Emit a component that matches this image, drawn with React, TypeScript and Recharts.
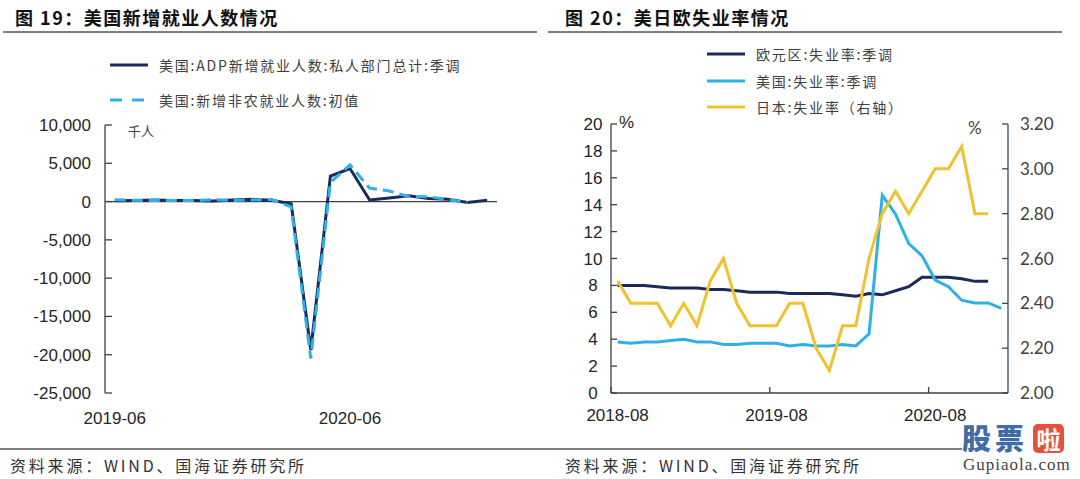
import { Line, LineChart, ReferenceLine, XAxis, YAxis } from "recharts";

// 图19: monthly, thousands of persons
const jobMonths = [
  "2019-06", "2019-07", "2019-08", "2019-09", "2019-10", "2019-11", "2019-12",
  "2020-01", "2020-02", "2020-03", "2020-04", "2020-05", "2020-06", "2020-07",
  "2020-08", "2020-09", "2020-10", "2020-11", "2020-12", "2021-01",
];
const adpPrivate = [
  112, 156, 195, 135, 125, 67, 202, 291, 183, -302, -19409, 3341, 4314, 212,
  481, 753, 404, 304, -123, 174,
];
const nfpInitial = [
  224, 164, 130, 136, 128, 266, 145, 225, 273, -701, -20500, 2509, 4800, 1763,
  1371, 661, 638, 245, -140, null,
];
const jobXTicks = ["2019-06", "2020-06"];
const jobYTicks = [-25000, -20000, -15000, -10000, -5000, 0, 5000, 10000];

// 图20: monthly unemployment rate, %
const rateMonths = [
  "2018-08", "2018-09", "2018-10", "2018-11", "2018-12", "2019-01", "2019-02",
  "2019-03", "2019-04", "2019-05", "2019-06", "2019-07", "2019-08", "2019-09",
  "2019-10", "2019-11", "2019-12", "2020-01", "2020-02", "2020-03", "2020-04",
  "2020-05", "2020-06", "2020-07", "2020-08", "2020-09", "2020-10", "2020-11",
  "2020-12", "2021-01",
];
const euroRate = [
  8.0, 8.0, 8.0, 7.9, 7.8, 7.8, 7.8, 7.7, 7.7, 7.6, 7.5, 7.5, 7.5, 7.4, 7.4,
  7.4, 7.4, 7.3, 7.2, 7.4, 7.3, 7.6, 7.9, 8.6, 8.6, 8.6, 8.5, 8.3, 8.3, null,
];
const usRate = [
  3.8, 3.7, 3.8, 3.8, 3.9, 4.0, 3.8, 3.8, 3.6, 3.6, 3.7, 3.7, 3.7, 3.5, 3.6,
  3.5, 3.5, 3.6, 3.5, 4.4, 14.7, 13.3, 11.1, 10.2, 8.4, 7.9, 6.9, 6.7, 6.7, 6.3,
];
const japanRate = [
  2.5, 2.4, 2.4, 2.4, 2.3, 2.4, 2.3, 2.5, 2.6, 2.4, 2.3, 2.3, 2.3, 2.4, 2.4,
  2.2, 2.1, 2.3, 2.3, 2.6, 2.8, 2.9, 2.8, 2.9, 3.0, 3.0, 3.1, 2.8, 2.8, null,
];
const rateXTicks = ["2018-08", "2019-08", "2020-08"];
const rateLeftTicks = [0, 2, 4, 6, 8, 10, 12, 14, 16, 18, 20];
const rateRightTicks = [2.0, 2.2, 2.4, 2.6, 2.8, 3.0, 3.2];

const jobData = jobMonths.map((m, i) => ({ month: m, adp: adpPrivate[i], nfp: nfpInitial[i] }));
const rateData = rateMonths.map((m, i) => ({
  month: m,
  euro: euroRate[i],
  us: usRate[i],
  japan: japanRate[i],
}));

const NAVY = "#1c2a5a";
const SKY = "#2fb0e6";
const GOLD = "#f2c12e";
const AXIS = "#404040";
const CJK = '"Noto Sans CJK SC", "Noto Sans", sans-serif';
const NUM = '"Liberation Sans", Arial, sans-serif';

// half a category band, so tick marks sit between months like the original
const RATE_HALF_BAND = 397 / rateMonths.length / 2;

function MonthTick(props: any) {
  const { x, y, payload, half, dy } = props;
  return (
    <g>
      {half ? (
        <line x1={x - half} x2={x - half} y1={y} y2={y - 6} stroke={AXIS} strokeWidth={1.3} />
      ) : null}
      <text
        x={x}
        y={y + dy}
        textAnchor="middle"
        dominantBaseline="central"
        fontFamily={NUM}
        fontSize={17}
        fill="#262626"
      >
        {payload.value}
      </text>
    </g>
  );
}

function LegendItem({ color, dashed, label }: { color: string; dashed?: boolean; label: string }) {
  return (
    <div style={{ display: "flex", alignItems: "center", height: 20 }}>
      <svg width={42} height={8} style={{ marginRight: 7 }}>
        <line
          x1={0}
          x2={dashed ? 34 : 38}
          y1={4}
          y2={4}
          stroke={color}
          strokeWidth={3}
          strokeDasharray={dashed ? "12 10" : undefined}
        />
      </svg>
      <span style={{ fontSize: 14, letterSpacing: 1.8, color: "#404040", fontFamily: CJK }}>{label}</span>
    </div>
  );
}

const titleStyle: React.CSSProperties = {
  position: "absolute",
  top: 5,
  fontFamily: CJK,
  fontWeight: 700,
  fontSize: 18,
  letterSpacing: 1.5,
  lineHeight: "24px",
  color: "#111",
};

const footStyle: React.CSSProperties = {
  position: "absolute",
  top: 453,
  fontFamily: CJK,
  fontSize: 16,
  letterSpacing: 2.8,
  lineHeight: "24px",
  color: "#333",
};

export default function App() {
  return (
    <div
      style={{
        position: "absolute",
        left: 0,
        top: 0,
        width: 1080,
        height: 479,
        background: "#fff",
        overflow: "hidden",
      }}
    >
      <div style={{ ...titleStyle, left: 15 }}>图 19：美国新增就业人数情况</div>
      <div style={{ ...titleStyle, left: 565 }}>图 20：美日欧失业率情况</div>
      <div style={{ position: "absolute", left: 3, top: 31, width: 534, height: 1.5, background: "#808080" }} />
      <div style={{ position: "absolute", left: 548, top: 31, width: 514, height: 1.5, background: "#808080" }} />

      {/* left chart */}
      <div style={{ position: "absolute", left: 0, top: 0 }}>
        <LineChart
          width={540}
          height={479}
          data={jobData}
          margin={{ top: 125, right: 43, left: 45, bottom: 56 }}
        >
          <XAxis
            dataKey="month"
            ticks={jobXTicks}
            interval={0}
            axisLine={false}
            tickLine={false}
            tickSize={0}
            tickMargin={0}
            height={30}
            padding={{ left: 9.8, right: 9.8 }}
            tick={<MonthTick dy={25} />}
          />
          <YAxis
            domain={[-25000, 10000]}
            ticks={jobYTicks}
            interval={0}
            width={60}
            stroke={AXIS}
            strokeWidth={1.3}
            tickSize={-7}
            tickMargin={21}
            tickFormatter={(v: number) => v.toLocaleString("en-US")}
            tick={{ fill: "#262626", fontSize: 17, fontFamily: NUM }}
          />
          <ReferenceLine y={0} stroke={AXIS} strokeWidth={1.3} />
          <Line
            dataKey="adp"
            stroke={NAVY}
            strokeWidth={3}
            dot={false}
            isAnimationActive={false}
          />
          <Line
            dataKey="nfp"
            stroke={SKY}
            strokeWidth={3}
            strokeDasharray="11 6"
            dot={false}
            connectNulls={false}
            isAnimationActive={false}
          />
        </LineChart>
      </div>
      <div style={{ position: "absolute", left: 110, top: 55 }}>
        <LegendItem color={NAVY} label="美国:ADP新增就业人数:私人部门总计:季调" />
      </div>
      <div style={{ position: "absolute", left: 110, top: 90 }}>
        <LegendItem color={SKY} dashed label="美国:新增非农就业人数:初值" />
      </div>
      <div style={{ position: "absolute", left: 128, top: 121, fontFamily: CJK, fontSize: 13, color: "#404040" }}>
        千人
      </div>

      {/* right chart */}
      <div style={{ position: "absolute", left: 540, top: 0 }}>
        <LineChart
          width={540}
          height={479}
          data={rateData}
          margin={{ top: 124, right: 12, left: 21, bottom: 56 }}
        >
          <XAxis
            dataKey="month"
            ticks={rateXTicks}
            interval={0}
            stroke={AXIS}
            strokeWidth={1.3}
            tickLine={false}
            tickSize={0}
            tickMargin={0}
            height={30}
            padding={{ left: RATE_HALF_BAND, right: RATE_HALF_BAND }}
            tick={<MonthTick dy={22} half={RATE_HALF_BAND} />}
          />
          <YAxis
            yAxisId="left"
            domain={[0, 20]}
            ticks={rateLeftTicks}
            interval={0}
            width={50}
            stroke={AXIS}
            strokeWidth={1.3}
            tickSize={-6}
            tickMargin={24}
            tick={{ fill: "#262626", fontSize: 17, fontFamily: NUM, textAnchor: "middle" }}
          />
          <YAxis
            yAxisId="right"
            orientation="right"
            domain={[2.0, 3.2]}
            ticks={rateRightTicks}
            interval={0}
            width={60}
            stroke="#34486a"
            strokeWidth={1.3}
            tickSize={-6}
            tickMargin={18}
            tickFormatter={(v: number) => v.toFixed(2)}
            tick={{ fill: "#404040", fontSize: 17, fontFamily: '"Lato", sans-serif' }}
          />
          <Line
            yAxisId="left"
            dataKey="euro"
            stroke={NAVY}
            strokeWidth={3}
            dot={false}
            isAnimationActive={false}
          />
          <Line
            yAxisId="left"
            dataKey="us"
            stroke={SKY}
            strokeWidth={3}
            dot={false}
            isAnimationActive={false}
          />
          <Line
            yAxisId="right"
            dataKey="japan"
            stroke={GOLD}
            strokeWidth={3}
            dot={false}
            isAnimationActive={false}
          />
        </LineChart>
      </div>
      <div style={{ position: "absolute", left: 707, top: 44 }}>
        <LegendItem color={NAVY} label="欧元区:失业率:季调" />
      </div>
      <div style={{ position: "absolute", left: 707, top: 71 }}>
        <LegendItem color={SKY} label="美国:失业率:季调" />
      </div>
      <div style={{ position: "absolute", left: 707, top: 97 }}>
        <LegendItem color={GOLD} label="日本:失业率（右轴）" />
      </div>
      <div style={{ position: "absolute", left: 619, top: 113, fontFamily: NUM, fontSize: 17, color: "#262626" }}>%</div>
      <div style={{ position: "absolute", left: 968, top: 117, fontFamily: '"Lato", sans-serif', fontSize: 17, color: "#404040" }}>
        %
      </div>

      {/* footer */}
      <div style={{ position: "absolute", left: 0, top: 448, width: 962, height: 1.5, background: "#808080" }} />
      <div style={{ ...footStyle, left: 10 }}>资料来源：WIND、国海证券研究所</div>
      <div style={{ ...footStyle, left: 565 }}>资料来源：WIND、国海证券研究所</div>

      {/* watermark */}
      <div
        style={{
          position: "absolute",
          left: 962,
          top: 420,
          fontFamily: CJK,
          fontWeight: 900,
          fontSize: 29,
          lineHeight: "34px",
          color: "#3f6ea6",
          letterSpacing: 4,
        }}
      >
        股票
      </div>
      <div
        style={{
          position: "absolute",
          left: 1033,
          top: 424,
          width: 31,
          height: 29,
          borderRadius: 5,
          background: "#e2523f",
          color: "#fff",
          fontFamily: CJK,
          fontWeight: 700,
          fontSize: 24,
          lineHeight: "29px",
          textAlign: "center",
        }}
      >
        啦
      </div>
      <div
        style={{
          position: "absolute",
          left: 963,
          top: 455,
          fontFamily: '"Liberation Serif", serif',
          fontSize: 17,
          letterSpacing: 1,
          lineHeight: "20px",
          color: "#444",
        }}
      >
        Gupiaola.com
      </div>
    </div>
  );
}
